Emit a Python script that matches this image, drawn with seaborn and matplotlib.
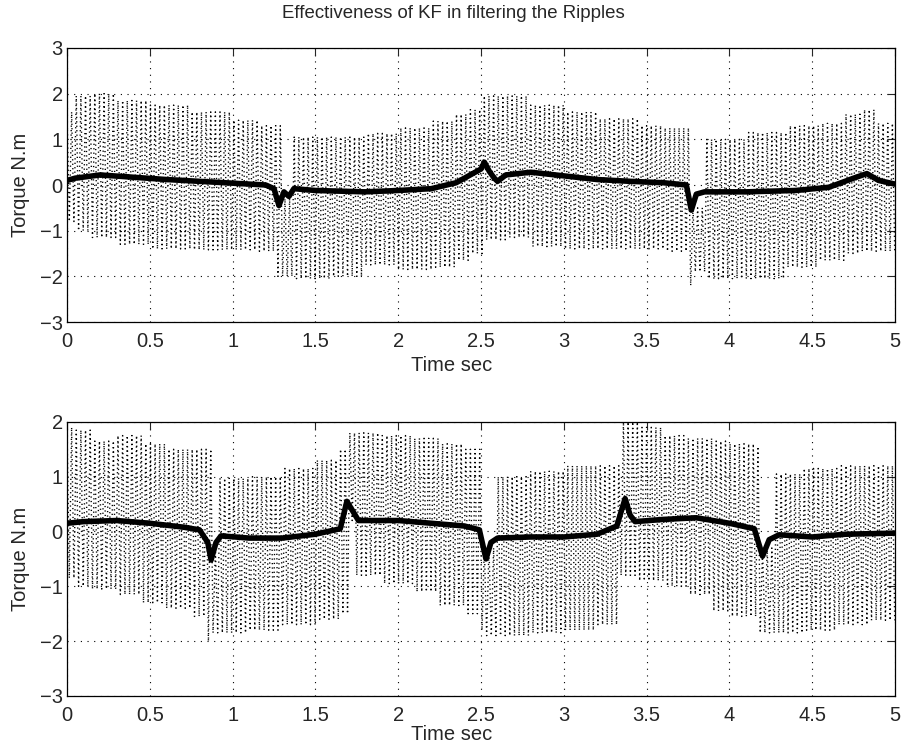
import numpy as np
import pandas as pd
import matplotlib
matplotlib.use("Agg")
import matplotlib.pyplot as plt
import seaborn as sns

# =========================
# DATA
# =========================

# ripple envelope, top plot: segment start time, upper value, lower value
top_seg_t = [0.00, 0.05, 0.15, 0.30, 0.50, 0.75, 1.00, 1.15, 1.27, 1.29, 1.36, 1.60,
             1.80, 2.00, 2.20, 2.35, 2.43, 2.52, 2.65, 2.80, 3.00, 3.20, 3.45, 3.60,
             3.76, 3.78, 3.86, 4.10, 4.35, 4.55, 4.70, 4.80, 4.90]
top_seg_hi = [1.60, 1.95, 2.00, 1.85, 1.75, 1.60, 1.42, 1.30, 1.30, -0.30, 1.05, 1.05,
              1.13, 1.25, 1.40, 1.55, 1.65, 1.95, 1.95, 1.75, 1.60, 1.45, 1.30, 1.25,
              1.20, -0.50, 1.00, 1.15, 1.30, 1.35, 1.55, 1.65, 1.35]
top_seg_lo = [-0.80, -1.00, -1.15, -1.30, -1.40, -1.42, -1.42, -1.45, -2.00, -2.00, -2.05, -2.00,
              -1.75, -1.85, -1.80, -1.65, -1.50, -1.20, -1.15, -1.35, -1.40, -1.40, -1.40, -1.45,
              -2.20, -1.90, -2.05, -2.05, -1.80, -1.65, -1.50, -1.45, -1.45]

# Kalman filtered torque, top plot
top_kf_t = [0.00, 0.05, 0.20, 0.40, 0.60, 0.80, 1.00, 1.20, 1.25, 1.28, 1.31, 1.34, 1.37,
            1.50, 1.80, 2.00, 2.20, 2.35, 2.45, 2.50, 2.52, 2.55, 2.58, 2.60, 2.65, 2.80,
            3.00, 3.20, 3.40, 3.60, 3.74, 3.77, 3.80, 3.85, 4.10, 4.40, 4.60, 4.75, 4.83,
            4.90, 5.00]
top_kf_v = [0.10, 0.15, 0.22, 0.17, 0.12, 0.08, 0.04, 0.00, -0.08, -0.45, -0.15, -0.25, -0.08,
            -0.12, -0.15, -0.12, -0.08, 0.05, 0.25, 0.35, 0.50, 0.30, 0.15, 0.08, 0.22, 0.28,
            0.20, 0.12, 0.08, 0.05, 0.00, -0.55, -0.20, -0.15, -0.15, -0.12, -0.05, 0.15, 0.25,
            0.10, 0.02]

# ripple envelope, bottom plot
bot_seg_t = [0.00, 0.05, 0.15, 0.30, 0.45, 0.60, 0.75, 0.85, 0.87, 0.92, 1.10, 1.30,
             1.50, 1.65, 1.70, 1.74, 1.90, 2.10, 2.25, 2.40, 2.49, 2.51, 2.60, 2.80,
             3.00, 3.20, 3.34, 3.45, 3.60, 3.75, 3.90, 4.00, 4.15, 4.18, 4.20, 4.28,
             4.45, 4.65, 4.85]
bot_seg_hi = [1.90, 1.85, 1.65, 1.75, 1.60, 1.50, 1.50, 1.50, -0.30, 0.97, 1.00, 1.15,
              1.30, 1.50, 1.80, 1.80, 1.75, 1.70, 1.60, 1.50, 1.50, -0.30, 1.00, 1.10,
              1.20, 1.20, 2.00, 1.90, 1.75, 1.70, 1.65, 1.60, 1.55, 1.55, -0.30, 1.05,
              1.15, 1.20, 1.20]
bot_seg_lo = [-0.85, -1.00, -1.05, -1.15, -1.30, -1.40, -1.55, -2.00, -1.85, -1.85, -1.80, -1.70,
              -1.60, -1.50, 0.20, -0.80, -0.95, -1.10, -1.35, -1.50, -1.80, -1.90, -1.90, -1.85,
              -1.80, -1.70, -0.80, -0.90, -1.00, -1.15, -1.45, -1.55, -1.55, -1.85, -1.85, -1.85,
              -1.80, -1.70, -1.62]

# Kalman filtered torque, bottom plot
bot_kf_t = [0.00, 0.10, 0.30, 0.50, 0.70, 0.80, 0.85, 0.87, 0.90, 0.93, 1.10, 1.30, 1.50,
            1.65, 1.69, 1.72, 1.76, 1.80, 2.00, 2.20, 2.40, 2.49, 2.53, 2.56, 2.60, 2.80,
            3.00, 3.20, 3.32, 3.37, 3.40, 3.43, 3.60, 3.80, 4.00, 4.15, 4.20, 4.24, 4.30,
            4.50, 4.70, 5.00]
bot_kf_v = [0.15, 0.18, 0.20, 0.15, 0.08, 0.03, -0.20, -0.52, -0.20, -0.08, -0.12, -0.12, -0.05,
            0.05, 0.55, 0.40, 0.20, 0.20, 0.20, 0.15, 0.10, 0.03, -0.50, -0.20, -0.12, -0.10,
            -0.10, -0.05, 0.10, 0.60, 0.30, 0.18, 0.22, 0.25, 0.15, 0.05, -0.45, -0.15, -0.06,
            -0.10, -0.05, -0.03]

x_ticks = [0, 0.5, 1, 1.5, 2, 2.5, 3, 3.5, 4, 4.5, 5]
x_tick_labels = ["0", "0.5", "1", "1.5", "2", "2.5", "3", "3.5", "4", "4.5", "5"]
top_y_ticks = [-3, -2, -1, 0, 1, 2, 3]
bot_y_ticks = [-3, -2, -1, 0, 1, 2]

# =========================
# STYLE
# =========================

sns.set_style("white")
plt.rcParams["font.family"] = ["Liberation Sans", "DejaVu Sans"]
plt.rcParams["axes.unicode_minus"] = True

FS = 14.5


def ripple_frame(seg_t, seg_hi, seg_lo, step=0.014):
    # the ripple swings between the upper and lower envelope
    t = np.arange(0, 5 + step / 2, step)
    idx = np.searchsorted(seg_t, t, side="right") - 1
    hi = np.array(seg_hi)[idx]
    lo = np.array(seg_lo)[idx]
    v = np.where(np.arange(len(t)) % 2 == 0, hi, lo)
    return pd.DataFrame({"t": t, "v": v})


def draw_panel(ax, seg_t, seg_hi, seg_lo, kf_t, kf_v, ylim, yticks, label_y):
    rip = ripple_frame(seg_t, seg_hi, seg_lo)
    kf = pd.DataFrame({"t": kf_t, "v": kf_v})
    sns.lineplot(data=rip, x="t", y="v", ax=ax, color="black",
                 linestyle=(0, (0.9, 2.3)), linewidth=1.0,
                 estimator=None, sort=False)
    sns.lineplot(data=kf, x="t", y="v", ax=ax, color="black", linewidth=4.0,
                 estimator=None, sort=False)
    ax.set_xlim(0, 5)
    ax.set_ylim(*ylim)
    ax.set_xticks(x_ticks)
    ax.set_xticklabels(x_tick_labels)
    ax.set_yticks(yticks)
    ax.set_yticklabels([str(v).replace("-", "\u2212") for v in yticks])
    ax.grid(True, color="black", linestyle=(0, (1, 5)), linewidth=0.8)
    ax.tick_params(direction="in", top=True, right=True, length=6, width=0.8,
                   labelsize=FS, pad=3)
    ax.tick_params(axis="x", pad=7)
    for s in ax.spines.values():
        s.set_color("black")
        s.set_linewidth(0.9)
    ax.set_xlabel("Time sec", fontsize=FS, va="center")
    ax.xaxis.set_label_coords(0.464, label_y)
    ax.set_ylabel("Torque N.m", fontsize=FS, labelpad=7)


# =========================
# FIGURE
# =========================

fig = plt.figure(figsize=(9.04, 7.49), dpi=100)
ax1 = fig.add_axes([0.0741, 0.570, 0.916, 0.366])
ax2 = fig.add_axes([0.0741, 0.0708, 0.916, 0.366])

draw_panel(ax1, top_seg_t, top_seg_hi, top_seg_lo, top_kf_t, top_kf_v,
           (-3, 3), top_y_ticks, -0.158)
draw_panel(ax2, bot_seg_t, bot_seg_hi, bot_seg_lo, bot_kf_t, bot_kf_v,
           (-3, 2), bot_y_ticks, -0.142)

fig.text(453 / 904, 1 - 14 / 749, "Effectiveness of KF in filtering the Ripples",
         fontsize=13.4, ha="center", va="center")

fig.savefig("out.png", dpi=100)
plt.close()
